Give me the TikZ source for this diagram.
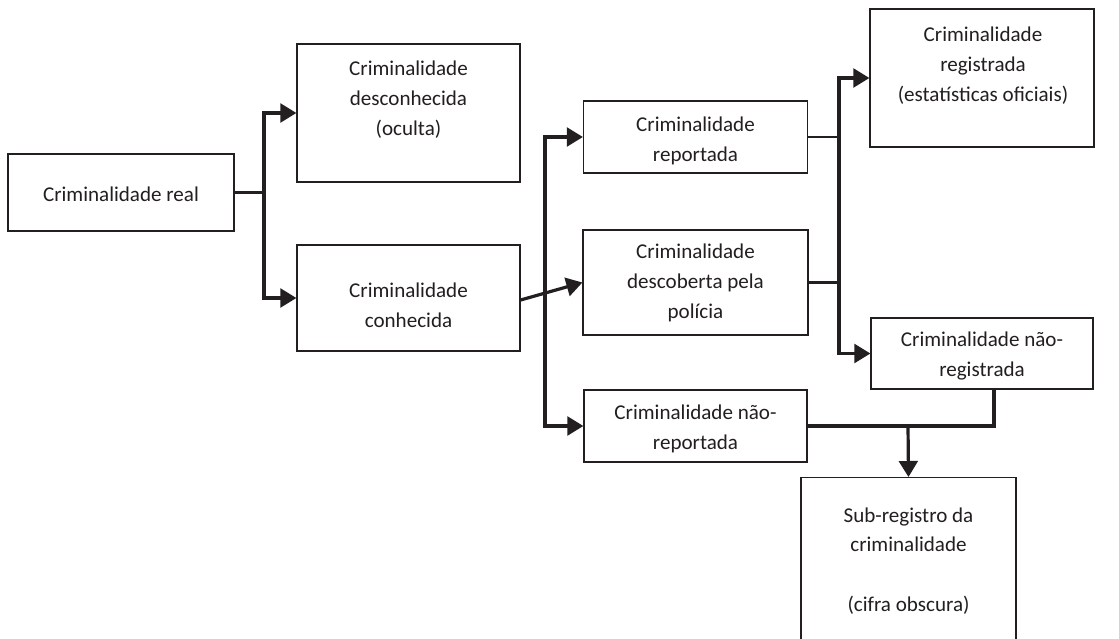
\documentclass[tikz,border=0pt]{standalone}
\usepackage{fontspec}
\setmainfont{Carlito}
\usetikzlibrary{arrows.meta}
\definecolor{ink}{RGB}{35,31,32}
\tikzset{
  box/.style={draw=ink, line width=0.9pt, inner sep=0pt, rectangle},
  lbl/.style={align=center, text=ink, inner sep=0pt, font=\fontsize{15.8}{22.4}\selectfont},
  conn/.style={draw=ink, line width=2.4pt},
  thinconn/.style={draw=ink, line width=2.1pt},
  arr/.style={conn, -{Triangle[length=12pt,width=14pt]}},
  twoarr/.style={conn, {Triangle[length=12pt,width=14pt]}-{Triangle[length=12pt,width=14pt]}}
}
\begin{document}
\begin{tikzpicture}[x=0.75pt,y=-0.75pt]
\useasboundingbox (0,0) rectangle (1119,638);
\fill[white] (0,0) rectangle (1119,638);
\clip (0,0) rectangle (1119,638);

% boxes
\node[box, minimum width=169.5pt, minimum height=57.75pt] (real) at (121,192.5) {};
\node[box, minimum width=167.25pt, minimum height=103.5pt] (desc) at (408.5,113) {};
\node[box, minimum width=167.25pt, minimum height=79.5pt] (conh) at (408.5,298) {};
\node[box, minimum width=168pt, minimum height=54pt] (rep) at (695.5,137) {};
\node[box, minimum width=168.75pt, minimum height=78.75pt] (descpol) at (695.5,282.5) {};
\node[box, minimum width=167.25pt, minimum height=54pt] (nrep) at (695.5,426) {};
\node[box, minimum width=168pt, minimum height=103.5pt] (reg) at (982,78) {};
\node[box, minimum width=166.5pt, minimum height=53.25pt] (nreg) at (982,353.5) {};
\node[box, minimum width=161.25pt, minimum height=138pt, anchor=north] (sub) at (908.5,477) {};

% labels
\node[lbl] (treal) at (121,194) {Criminalidade real};
\node[lbl] (tdesc) at (408.5,100) {Criminalidade\\desconhecida\\(oculta)};
\node[lbl] (tconh) at (408.5,305) {Criminalidade\\conhecida};
\node[lbl] (trep) at (695.5,141) {Criminalidade\\reportada};
\node[lbl] (tdescpol) at (695.5,283) {Criminalidade\\descoberta pela\\polícia};
\node[lbl] (tnrep) at (695.5,429) {Criminalidade não-\\reportada};
\node[lbl] (treg) at (983,66) {Criminalidade\\registrada\\(estatísticas oficiais)};
\node[lbl] (tnreg) at (982,356) {Criminalidade não-\\registrada};
\node[lbl] (tsub) at (908.5,561) {Sub-registro da\\criminalidade\\[22.4pt](cifra obscura)};

% junction coordinates
\coordinate (j1) at (264,192.5);
\coordinate (j2a) at (545,137);
\coordinate (j2b) at (545,426);
\coordinate (j3a) at (839,137);
\coordinate (j3b) at (839,282.5);
\coordinate (j3) at (839,200);
\coordinate (j4a) at (908,426);
\coordinate (j4b) at (994,426);
\coordinate (nregs) at (994,389);

% connectors
\draw[conn] (real.east) -- (j1);
\draw[arr] (j1) |- (desc.west);
\draw[arr] (j1) |- (conh.west);

\draw[arr] ([yshift=-1.5pt]conh.east) -- (descpol.west);
\draw[twoarr] (rep.west) -- (j2a) -- (j2b) -- (nrep.west);

\draw[thinconn] (rep.east) -- (j3a);
\draw[thinconn] (descpol.east) -- (j3b);
\draw[arr] (j3) |- (reg.west);
\draw[arr] (j3) |- (nreg.west);

\draw[conn] (nrep.east) -- (j4b) -- (nregs);
\draw[arr] (j4a) -- (sub.north);
\end{tikzpicture}
\end{document}
